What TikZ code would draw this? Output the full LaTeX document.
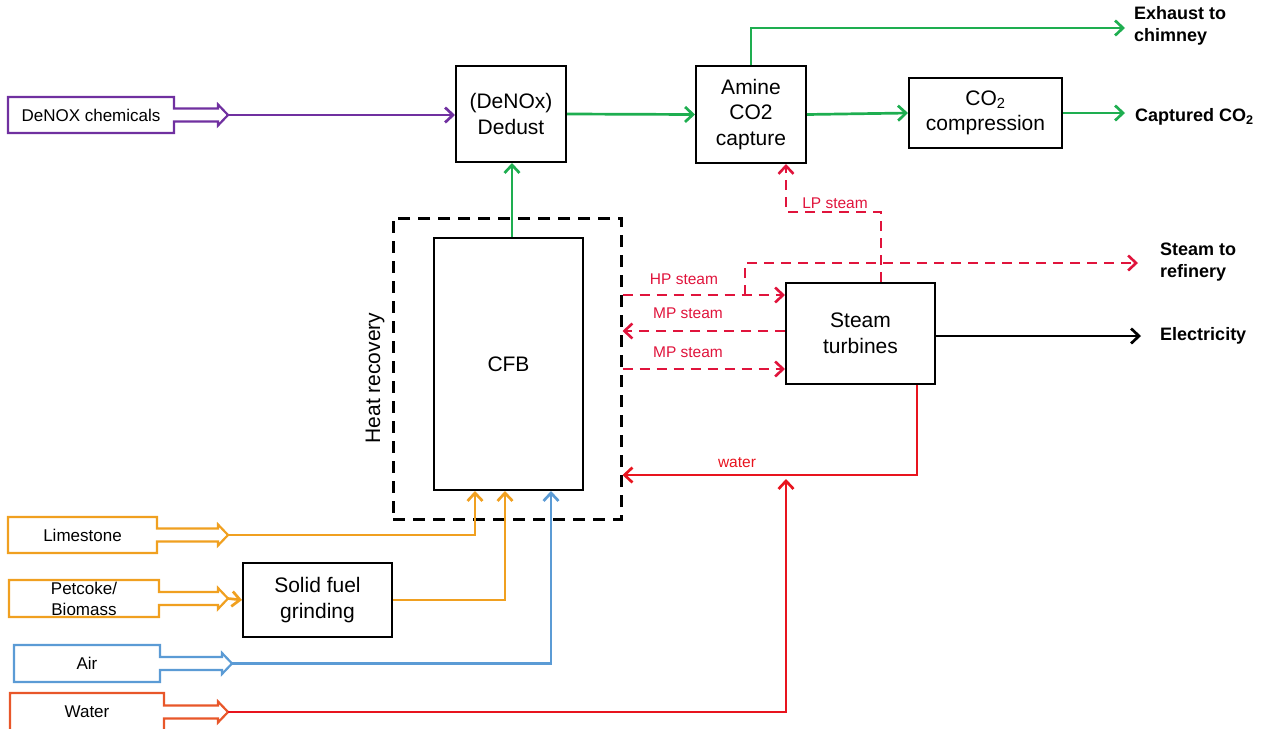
\documentclass[tikz,border=0pt]{standalone}
\usepackage{fontspec}
\setmainfont{Liberation Sans}
\usetikzlibrary{arrows.meta}
\definecolor{cpurple}{HTML}{7030A0}
\definecolor{corange}{HTML}{F0A020}
\definecolor{cblue}{HTML}{5B9BD5}
\definecolor{cwater}{HTML}{E8572A}
\definecolor{cred}{HTML}{E8141E}
\definecolor{csteam}{HTML}{E0143C}
\definecolor{cgreen}{HTML}{1EAE50}
\tikzset{
  box/.style={draw=black, line width=2pt, align=center, inner sep=0pt, font=\fontsize{21}{25.5}\selectfont},
  inlabel/.style={align=center, inner sep=0pt, font=\fontsize{17}{21}\selectfont},
  flow/.style={line width=2.7pt, -{Straight Barb[length=8pt,width=15pt]}},
  stm/.style={line width=2.6pt, csteam, dash pattern=on 10pt off 7pt, -{Straight Barb[length=8pt,width=15pt]}},
  slabel/.style={text=csteam, inner sep=0pt, font=\fontsize{15.5}{18}\selectfont},
  outlab/.style={anchor=west, align=left, inner sep=0pt, font=\bfseries\fontsize{18}{22}\selectfont},
}
% #1 name #2 x1 #3 x2 #4 y1 #5 y2 #6 tipx #7 color #8 text
\newcommand\inbx[8]{%
  \pgfmathsetmacro\iyc{(#4+#5)/2}%
  \pgfmathsetmacro\ihx{#6-10}%
  \pgfmathsetmacro\ixc{(#2+#3)/2}%
  \draw[#7, line width=2.2pt, line join=miter] (#2,#4) -- (#3,#4) -- (#3,\iyc-6.5) -- (\ihx,\iyc-6.5) -- (\ihx,\iyc-10.5) -- (#6,\iyc) -- (\ihx,\iyc+10.5) -- (\ihx,\iyc+6.5) -- (#3,\iyc+6.5) -- (#3,#5) -- (#2,#5) -- cycle;
  \node[inlabel] (#1) at (\ixc,\iyc) {#8};
  \coordinate (#1-tip) at (#6,\iyc);
}
\begin{document}
\begin{tikzpicture}[x=1pt,y=-1pt]
\useasboundingbox (0,0) rectangle (1263,728);
\clip (0,0) rectangle (1263,728);

% main boxes
\node[box, minimum width=110pt, minimum height=96pt] (dedust) at (511,114) {(DeNOx)\\Dedust};
\node[box, minimum width=110pt, minimum height=97pt] (amine) at (751,114.5) {Amine\\CO2\\capture};
\node[box, minimum width=153pt, minimum height=70pt] (comp) at (985.5,113) {CO\textsubscript{2}\\compression};
\node[draw=black, line width=3pt, dash pattern=on 12pt off 8pt, minimum width=228pt, minimum height=301pt, inner sep=0pt] (heat) at (507,368.5) {};
\node[box, minimum width=149pt, minimum height=252pt] (cfb) at (508.5,364) {CFB};
\node[box, minimum width=149pt, minimum height=101pt] (turb) at (860.5,333.5) {Steam\\turbines};
\node[box, minimum width=149pt, minimum height=74pt] (grind) at (317.5,600) {Solid fuel\\grinding};
\node[rotate=90, inner sep=0pt, font=\fontsize{21}{24}\selectfont] (hrlab) at (375,378) {Heat recovery};

% input boxes
\inbx{denox}{8}{174}{97}{133}{228}{cpurple}{DeNOX chemicals}
\inbx{lime}{8}{157}{517}{553}{228}{corange}{Limestone}
\inbx{pet}{9}{159}{580}{617}{228}{corange}{Petcoke/\\Biomass}
\inbx{air}{14}{160}{645}{682}{232}{cblue}{Air}
\inbx{water}{10}{164}{693}{731}{228}{cwater}{Water}

% coordinates for free ends
\coordinate (exh) at (1125,28);
\coordinate (capt) at (1125,113);
\coordinate (refin) at (1138,263);
\coordinate (elec) at (1141,336);
\coordinate (wend) at (786,479);

% output labels
\node[outlab] (exhlab) at (1134,26) {Exhaust to\\chimney};
\node[outlab] (captlab) at (1135,117) {Captured CO\textsubscript{2}};
\node[outlab] (reflab) at (1160,262) {Steam to\\refinery};
\node[outlab] (eleclab) at (1160,336) {Electricity};

% green flue gas
\draw[flow, cgreen] (cfb.north -| 512,0) -- (dedust.south -| 512,0);
\draw[flow, cgreen] (dedust.east) -- (amine.west);
\draw[flow, cgreen] (amine.east) -- (comp.west);
\draw[flow, cgreen] (comp.east) -- (capt);
\draw[flow, cgreen] (amine.north) |- (exh);

% inputs
\draw[flow, cpurple] (denox-tip) -- (dedust.west |- denox-tip);
\draw[flow, corange] (lime-tip) -| (cfb.south -| 475,0);
\draw[flow, corange] (pet-tip) -- (grind.west);
\draw[flow, corange] (grind.east) -| (cfb.south -| 505,0);
\draw[flow, cblue] (air-tip) -| (cfb.south -| 551,0);
\draw[flow, cred] (water-tip) -| (wend);

% steam
\draw[stm] (heat.east |- 0,295) -- (turb.west |- 0,295);
\draw[stm] (745,295) |- (refin);
\draw[stm] (turb.west |- 0,331) -- (heat.east |- 0,331);
\draw[stm] (heat.east |- 0,369) -- (turb.west |- 0,369);
\draw[stm] (turb.north -| 881,0) |- (786,212) -- (amine.south -| 786,0);
\draw[flow, cred] (turb.south -| 917,0) |- (heat.east |- 0,475);
\draw[flow, black] (turb.east |- elec) -- (elec);

% steam labels
\node[slabel] (hpl) at (684,279) {HP steam};
\node[slabel] (mpl1) at (688,313) {MP steam};
\node[slabel] (mpl2) at (688,352) {MP steam};
\node[slabel] (lpl) at (835,203) {LP steam};
\node[slabel, text=cred] (wl) at (737,463) {water};
\end{tikzpicture}
\end{document}
